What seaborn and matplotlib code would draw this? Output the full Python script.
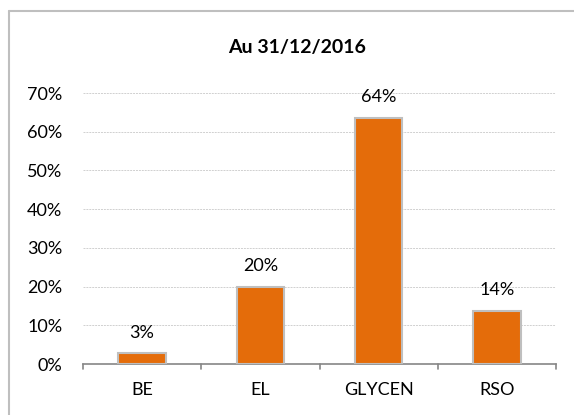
import matplotlib
matplotlib.use("Agg")
import matplotlib.pyplot as plt
import seaborn as sns
import pandas as pd
from matplotlib.ticker import PercentFormatter, MultipleLocator
from matplotlib.lines import Line2D

# données
categories = ["BE", "EL", "GLYCEN", "RSO"]
parts = [0.028, 0.199, 0.636, 0.137]
etiquettes = ["3%", "20%", "64%", "14%"]
titre = "Au 31/12/2016"

df = pd.DataFrame({"cat": categories, "part": parts})

sns.set_theme(style="white")
plt.rcParams["font.family"] = ["Lato", "DejaVu Sans"]

fig = plt.figure(figsize=(5.74, 4.15), dpi=100)
ax = fig.add_axes([83 / 574, 1 - 364 / 415, (556 - 83) / 574, (364 - 93) / 415])

sns.barplot(data=df, x="cat", y="part", color="#E46C0A", saturation=1,
            width=0.4, edgecolor="#BFBFBF", linewidth=1.5, ax=ax, zorder=3)

ax.set_ylim(0, 0.7)
ax.set_xlim(-0.5, 3.5)
ax.yaxis.set_major_locator(MultipleLocator(0.1))
ax.yaxis.set_major_formatter(PercentFormatter(1.0, decimals=0))
ax.grid(axis="y", color="#D0D0D0", linestyle=(0, (2, 1)), linewidth=0.7, zorder=0)

for s in ["left", "right", "top"]:
    ax.spines[s].set_visible(False)
ax.spines["bottom"].set_color("#868686")
ax.spines["bottom"].set_linewidth(1.2)

ax.set_xlabel("")
ax.set_ylabel("")
ax.tick_params(axis="y", length=0, labelsize=13, pad=15, labelcolor="black")
ax.tick_params(axis="x", length=0, labelsize=13, pad=13, labelcolor="black")

# graduations entre catégories
for xb in [-0.5, 0.5, 1.5, 2.5, 3.5]:
    ax.plot([xb, xb], [0, -0.014], color="#868686", lw=1.2, clip_on=False, zorder=4)

for i, (v, t) in enumerate(zip(parts, etiquettes)):
    ax.annotate(t, (i, v), xytext=(0, 9), textcoords="offset points",
                ha="center", va="bottom", fontsize=13, color="black")

fig.text(297 / 574, 1 - 47 / 415, titre, ha="center", va="center",
         fontsize=14, fontweight="bold", color="black")

# cadre du graphique (gauche et haut visibles)
fig.add_artist(Line2D([9 / 574, 9 / 574], [0, 1 - 11 / 415], transform=fig.transFigure,
                      color="#BFBFBF", lw=1.5))
fig.add_artist(Line2D([9 / 574, 1], [1 - 11 / 415, 1 - 11 / 415], transform=fig.transFigure,
                      color="#BFBFBF", lw=1.5))

fig.savefig("out.png", dpi=100)
